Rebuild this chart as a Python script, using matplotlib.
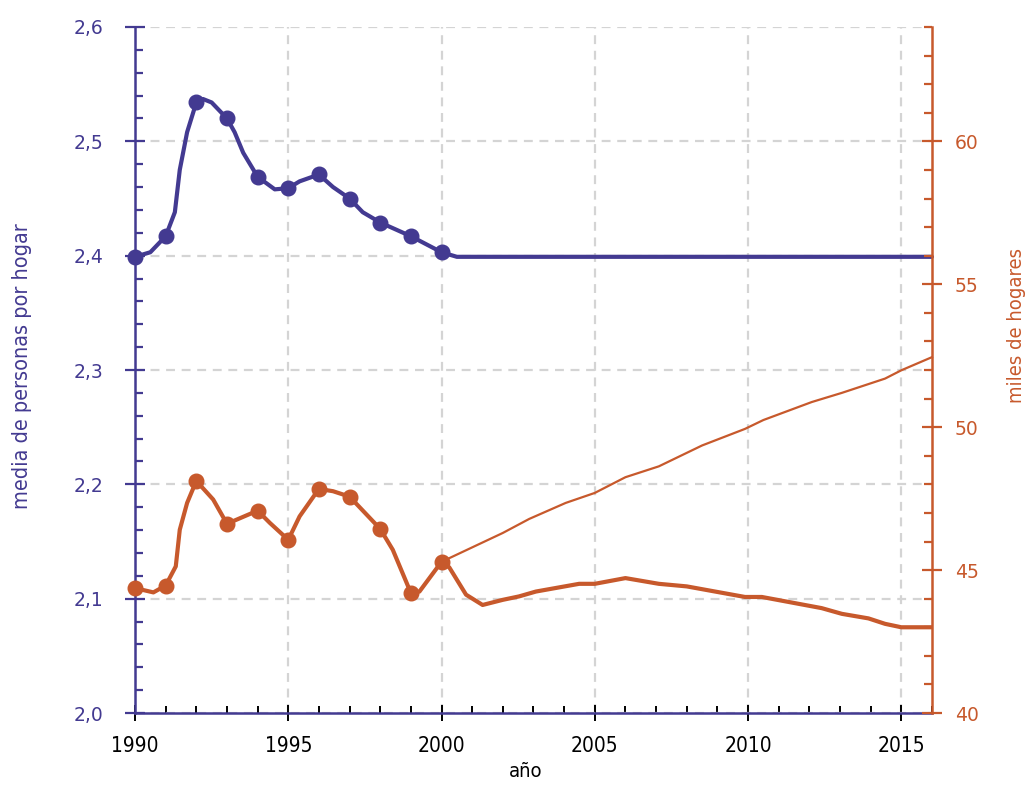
import matplotlib
matplotlib.use("Agg")
import matplotlib.pyplot as plt
from matplotlib.ticker import MultipleLocator, FixedLocator

blue = "#433a91"
orange = "#c7592c"
grid_col = "#d4d4d4"

# yearly observations (markers)
years_obs = [1990, 1991, 1992, 1993, 1994, 1995, 1996, 1997, 1998, 1999, 2000]
persons_obs = [2.399, 2.417, 2.534, 2.520, 2.469, 2.459, 2.471, 2.450, 2.429, 2.417, 2.403]
households_obs = [44.37, 44.46, 48.12, 46.62, 47.08, 46.06, 47.84, 47.57, 46.44, 44.20, 45.29]

# smoothed line for persons per household
years_persons = [1990, 1990.5, 1991, 1991.3, 1991.46, 1991.7, 1992, 1992.22, 1992.5,
                 1993, 1993.25, 1993.53, 1994, 1994.56, 1995, 1995.37, 1996, 1996.46,
                 1997, 1997.43, 1998, 1999, 2000, 2000.5, 2001, 2005, 2010, 2016]
persons_line = [2.399, 2.403, 2.417, 2.438, 2.475, 2.508, 2.534, 2.537, 2.534,
                2.520, 2.508, 2.490, 2.469, 2.458, 2.459, 2.465, 2.471, 2.460,
                2.450, 2.438, 2.429, 2.417, 2.403, 2.399, 2.399, 2.399, 2.399, 2.399]

# households, observed + low projection
years_hh = [1990, 1990.6, 1991, 1991.33, 1991.46, 1991.7, 1992, 1992.55, 1993, 1994,
            1994.4, 1995, 1995.37, 1996, 1996.46, 1997, 1998, 1998.41, 1999, 1999.28,
            2000, 2000.25, 2000.8, 2001.34, 2002, 2002.53, 2003.08, 2004.49, 2005, 2006,
            2007.09, 2008, 2009.9, 2010.45, 2012.4, 2013.06, 2013.93, 2014.47, 2015,
            2016]
households_line = [44.37, 44.22, 44.46, 45.13, 46.41, 47.35, 48.12, 47.47, 46.62, 47.08,
                   46.65, 46.06, 46.88, 47.84, 47.76, 47.57, 46.44, 45.71, 44.20, 44.25,
                   45.29, 45.10, 44.14, 43.78, 43.96, 44.08, 44.25, 44.52, 44.52, 44.72,
                   44.52, 44.43, 44.06, 44.06, 43.67, 43.47, 43.31, 43.12, 43.00,
                   43.00]

# households, high projection
years_high = [2000, 2002, 2002.86, 2004.05, 2005, 2006, 2007.09, 2008.5, 2009.9,
              2010.5, 2012.08, 2013.06, 2014.47, 2015, 2016]
households_high = [45.29, 46.30, 46.79, 47.35, 47.70, 48.25, 48.63, 49.36, 49.94,
                   50.25, 50.88, 51.20, 51.70, 51.99, 52.45]

left_ticks = ["2,0", "2,1", "2,2", "2,3", "2,4", "2,5", "2,6"]

fig = plt.figure(figsize=(10.29, 7.87), dpi=100)
ax = fig.add_axes([0.1312, 0.094, 0.7745, 0.8717])
ax2 = ax.twinx()

ax.set_xlim(1990, 2016)
ax.set_ylim(2.0, 2.6)
ax2.set_ylim(40, 64)

ax.grid(True, which="major", color=grid_col, linestyle=(0, (4, 3)), linewidth=1.6)
ax.set_axisbelow(True)

ax.plot(years_persons, persons_line, color=blue, lw=3.0, solid_capstyle="round",
        solid_joinstyle="round", clip_on=False, zorder=3)
ax.plot(years_obs, persons_obs, "o", color=blue, ms=10.5, clip_on=False, zorder=4)

ax2.plot(years_hh, households_line, color=orange, lw=3.0, solid_capstyle="butt",
         solid_joinstyle="round", clip_on=False, zorder=3)
ax2.plot(years_high, households_high, color=orange, lw=1.6, clip_on=False, zorder=3)
ax2.plot(years_obs, households_obs, "o", color=orange, ms=10.5, clip_on=False, zorder=4)

# spines
for a in (ax, ax2):
    a.spines["top"].set_visible(False)
ax.spines["right"].set_visible(False)
ax2.spines["left"].set_visible(False)
ax2.spines["bottom"].set_visible(False)
ax.spines["left"].set_color(blue)
ax.spines["bottom"].set_color(blue)
ax2.spines["right"].set_color(orange)
for s in (ax.spines["left"], ax.spines["bottom"], ax2.spines["right"]):
    s.set_linewidth(1.8)

# x ticks
ax.xaxis.set_major_locator(FixedLocator([1990, 1995, 2000, 2005, 2010, 2015]))
ax.xaxis.set_minor_locator(MultipleLocator(1))
ax.tick_params(axis="x", which="major", direction="inout", length=11, width=1.4,
               color="black", labelsize=15, pad=11)
ax.tick_params(axis="x", which="minor", direction="in", length=5, width=1.4, color="black")
for lab in ax.get_xticklabels():
    lab.set_fontstretch("condensed")

# left ticks
ax.yaxis.set_minor_locator(MultipleLocator(0.02))
ax.set_yticks([2.0, 2.1, 2.2, 2.3, 2.4, 2.5, 2.6])
ax.set_yticklabels(left_ticks)
ax.tick_params(axis="y", which="major", direction="inout", length=14, width=1.6,
               color=blue, labelcolor=blue, labelsize=13.5, pad=16)
ax.tick_params(axis="y", which="minor", direction="in", length=6, width=1.6, color=blue)

# right ticks
ax2.yaxis.set_major_locator(MultipleLocator(5))
ax2.yaxis.set_minor_locator(MultipleLocator(1))
ax2.tick_params(axis="y", which="major", direction="inout", length=14, width=1.6,
                color=orange, labelcolor=orange, labelsize=13.5, pad=9.5)
ax2.tick_params(axis="y", which="minor", direction="in", length=6, width=1.6, color=orange)

ax.set_xlabel("año", fontsize=14.5, fontstretch="condensed")
ax.xaxis.set_label_coords(0.49, -0.072)
ax.set_ylabel("media de personas por hogar", fontsize=15.5, color=blue,
              fontstretch="condensed")
ax.yaxis.set_label_coords(-0.129, 0.505)
ax2.set_ylabel("miles de hogares", fontsize=14.5, color=orange, fontstretch="condensed")
ax2.yaxis.set_label_coords(1.094, 0.565)

fig.savefig("out.png", dpi=100)
